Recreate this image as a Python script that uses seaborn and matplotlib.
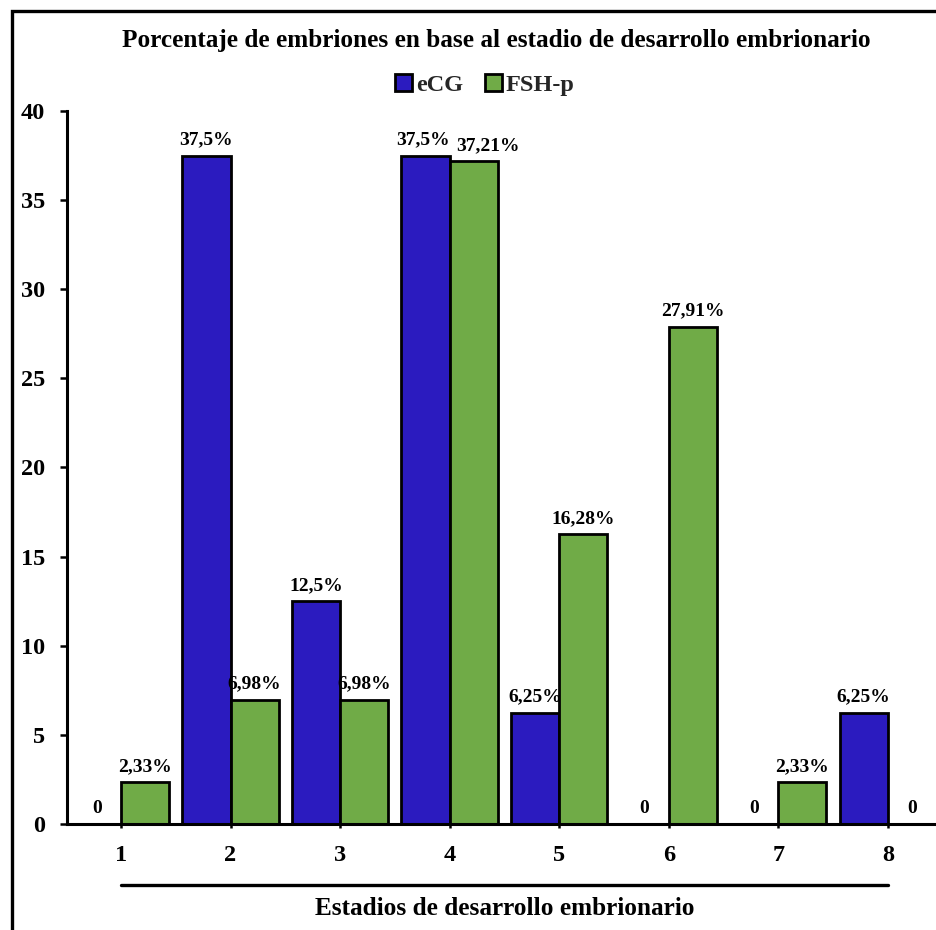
import matplotlib
matplotlib.use("Agg")
import matplotlib.pyplot as plt
from matplotlib.patches import Rectangle
import seaborn as sns
import pandas as pd

# Embryo development stages and percentage of embryos per treatment
stages = ["1", "2", "3", "4", "5", "6", "7", "8"]
ecg_pct = [0, 37.5, 12.5, 37.5, 6.25, 0, 0, 6.25]
fsh_pct = [2.33, 6.98, 6.98, 37.21, 16.28, 27.91, 2.33, 0]
treatments = ["eCG", "FSH-p"]
colors = ["#2B1BBF", "#70AB47"]
y_ticks = [0, 5, 10, 15, 20, 25, 30, 35, 40]

title = "Porcentaje de embriones en base al estadio de desarrollo embrionario"
x_title = "Estadios de desarrollo embrionario"


def pct_label(v):
    if v == 0:
        return "0"
    return f"{v:g}".replace(".", ",") + "%"


df = pd.DataFrame({
    "Estadio": stages * 2,
    "Tratamiento": [treatments[0]] * len(stages) + [treatments[1]] * len(stages),
    "Porcentaje": ecg_pct + fsh_pct,
})

sns.set_theme(style="white")
plt.rcParams["font.family"] = ["Liberation Serif", "DejaVu Serif"]
plt.rcParams["font.weight"] = "bold"

fig = plt.figure(figsize=(9.36, 9.30), dpi=100)
ax = fig.add_axes([67 / 936, 1 - 824 / 930, 1 - 67 / 936, (824 - 111) / 930])

sns.barplot(
    data=df, x="Estadio", y="Porcentaje", hue="Tratamiento",
    order=stages, hue_order=treatments, palette=colors,
    width=0.88, gap=0, edgecolor="black", linewidth=2.0,
    errorbar=None, saturation=1, ax=ax, legend=True,
)

label_sets = []
for cont, vals in zip(ax.containers, [ecg_pct, fsh_pct]):
    label_sets.append(ax.bar_label(cont, labels=[pct_label(v) for v in vals],
                                   padding=5, fontsize=14, fontweight="bold",
                                   color="black"))

# side-by-side tall bars of similar height: spread their labels apart
for i in range(len(stages)):
    if min(ecg_pct[i], fsh_pct[i]) > 30:
        label_sets[0][i].xyann = (-2, 5)
        label_sets[1][i].xyann = (10, 5)

ax.set_ylim(0, 40)
ax.set_xlim(-0.493, len(stages) - 1 + 0.44)
ax.set_yticks(y_ticks)
ax.set_yticklabels([str(t) for t in y_ticks], fontsize=17.5, fontweight="bold")
ax.set_xticks(range(len(stages)))
ax.set_xticklabels(stages, fontsize=17.5, fontweight="bold")
ax.tick_params(axis="y", direction="out", length=5, width=1.8, pad=11,
               left=True, colors="black")
ax.tick_params(axis="x", direction="out", length=3, width=1.8, pad=12,
               bottom=True, colors="black")
ax.set_xlabel("")
ax.set_ylabel("")
ax.grid(False)

for side in ["top", "right"]:
    ax.spines[side].set_visible(False)
for side in ["left", "bottom"]:
    ax.spines[side].set_color("black")
    ax.spines[side].set_linewidth(2.2)

# legend with square handles above the bars
handles, labels = ax.get_legend_handles_labels()
ax.legend(handles, labels, loc="center", bbox_to_anchor=(485 / 936, 1 - 85 / 930),
          bbox_transform=fig.transFigure, ncol=2, frameon=False,
          handlelength=0.7, handleheight=0.7, handletextpad=0.15,
          columnspacing=0.9, prop={"size": 17.5, "weight": "bold"})

# rule under the stage labels, spanning first to last stage
ax.plot([0, len(stages) - 1], [-0.0856, -0.0856], color="black", lw=2.4,
        transform=ax.get_xaxis_transform(), clip_on=False)

fig.text(496 / 936, 1 - 40 / 930, title, ha="center", va="center",
         fontsize=18.2, fontweight="bold", color="black")
fig.text(505 / 936, 1 - 908 / 930, x_title, ha="center", va="center",
         fontsize=18.2, fontweight="bold", color="black")

# outer chart frame
fig.patches.append(Rectangle((12 / 936, -0.2), 1.5, 1.2 - 11 / 930,
                             transform=fig.transFigure, fill=False,
                             edgecolor="black", lw=2.4, zorder=10))

fig.savefig("out.png", dpi=100)
